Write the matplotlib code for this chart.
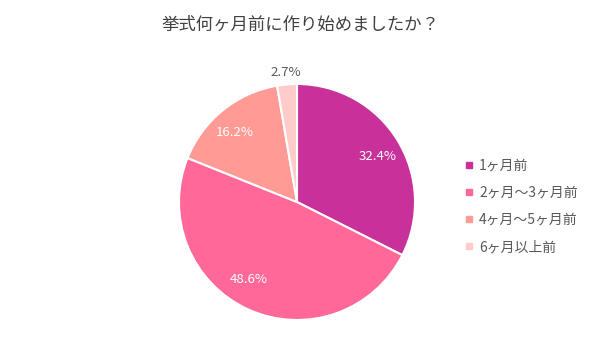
import matplotlib
matplotlib.use("Agg")
import matplotlib.pyplot as plt
import numpy as np

plt.rcParams['font.family'] = ['Noto Sans CJK JP', 'DejaVu Sans']

title = "挙式何ヶ月前に作り始めましたか？"
categories = ["1ヶ月前", "2ヶ月～3ヶ月前", "4ヶ月～5ヶ月前", "6ヶ月以上前"]
values = [32.4, 48.6, 16.2, 2.7]
colors = ["#C8309A", "#FF6898", "#FF9A95", "#FFCBCB"]
# label placement style (angle offset in degrees, radius fraction, colour)
label_style = [(-2.3, 0.78, "white"), (-7.2, 0.775, "white"),
               (2.8, 0.79, "white"), (-0.1, 1.10, "#595959")]

fig = plt.figure(figsize=(6.0, 3.63), dpi=100)
cx, cy, r = 297, 202, 118
ax = fig.add_axes([(cx - r) / 600, (363 - cy - r) / 363, 2 * r / 600, 2 * r / 363])
wedges, _ = ax.pie(values, colors=colors, startangle=90, counterclock=False,
                   wedgeprops=dict(edgecolor="white", linewidth=1.5), radius=1.0)
ax.set_xlim(-1, 1)
ax.set_ylim(-1, 1)
ax.set_aspect("equal")
ax.axis("off")

for w, v, (da, rf, col) in zip(wedges, values, label_style):
    ang = np.deg2rad((w.theta1 + w.theta2) / 2 + da)
    ax.text(rf * np.cos(ang), rf * np.sin(ang), f"{v:.1f}%", ha="center", va="center",
            color=col, fontsize=9.5, clip_on=False)

fig.text(300 / 600, 1 - 25 / 363, title, ha="center", va="center", fontsize=12.5, color="#404040")

handles = [plt.Line2D([], [], marker="s", linestyle="none", markersize=5,
                      markerfacecolor=c, markeredgecolor=c) for c in colors]
leg = fig.legend(handles, categories, loc="upper left", bbox_to_anchor=(450 / 600, 1 - 146 / 363),
                 frameon=False, fontsize=10, labelspacing=0.95, handletextpad=0.2,
                 handlelength=1.0, labelcolor="#595959")

fig.savefig("out.png", dpi=100)
